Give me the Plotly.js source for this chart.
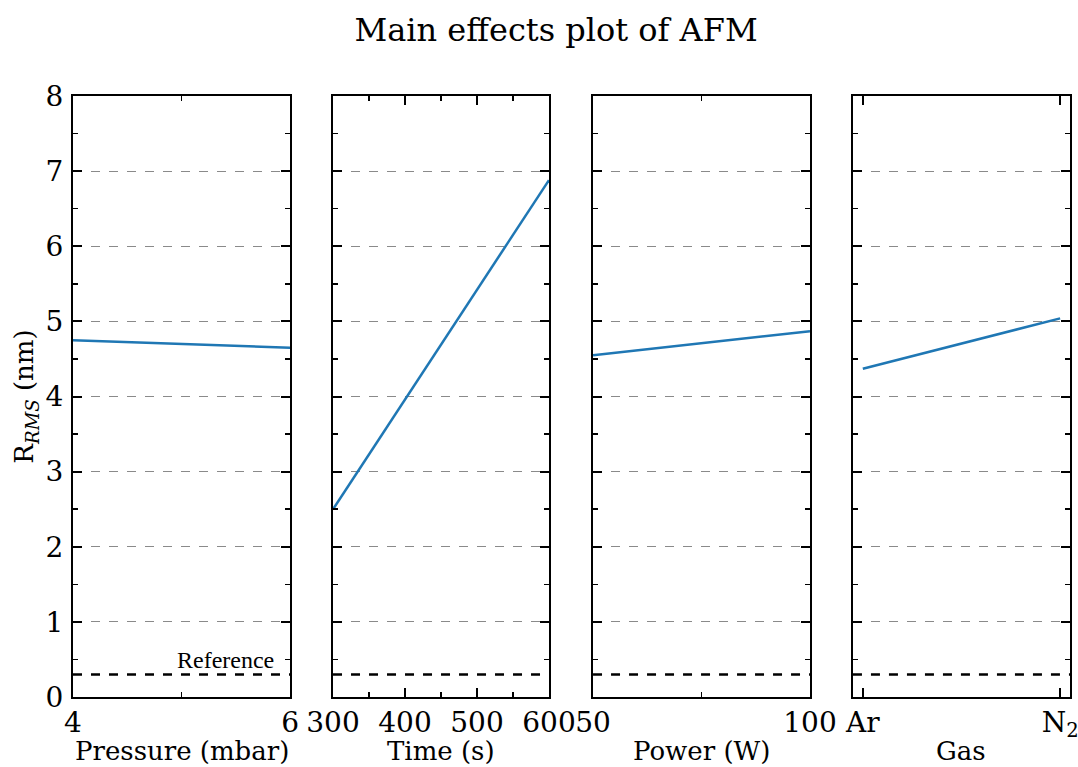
<!DOCTYPE html>
<html>
<head>
<meta charset="utf-8">
<script src="https://cdn.plot.ly/plotly-3.0.1.min.js"></script>
<style>html,body{margin:0;padding:0;background:#fff;}#chart{width:1078px;height:767px;}</style>
</head>
<body>
<div id="chart"></div>
<script>
// ---- data ----
const pressure = [4, 6];
const pressureR = [4.75, 4.65];
const time = [300, 600];
const timeR = [2.50, 6.88];
const power = [50, 100];
const powerR = [4.55, 4.87];
const gas = ['Ar', 'N<sub>2</sub>'];
const gasR = [4.37, 5.04];
const referenceValue = 0.3;
const xTitles = ['Pressure (mbar)', 'Time (s)', 'Power (W)', 'Gas'];
const yTitle = 'R<sub><i>RMS</i></sub> (nm)';
const yTicks = [0, 1, 2, 3, 4, 5, 6, 7, 8];

const serif = 'DejaVu Serif, serif';
const lineColor = '#1f77b4';

const xs = [pressure, time, power, gas];
const ys = [pressureR, timeR, powerR, gasR];
const traces = xs.map((x, i) => ({
  x: x, y: ys[i], type: 'scatter', mode: 'lines',
  line: {color: lineColor, width: 2.5},
  xaxis: i === 0 ? 'x' : 'x' + (i + 1),
  yaxis: i === 0 ? 'y' : 'y' + (i + 1),
  showlegend: false, hoverinfo: 'skip'
}));

const domains = [[0, 0.2177], [0.2608, 0.4774], [0.5216, 0.7392], [0.7823, 1]];
const xRanges = [[4, 6], [300, 600], [50, 100], [-0.05, 1.05]];
const xDticks = [2, 100, 50, null];
const xMinor = [1, 50, 25, null];

const layout = {
  width: 1078, height: 767,
  margin: {l: 73, r: 8, t: 96, b: 70},
  paper_bgcolor: '#fff', plot_bgcolor: '#fff',
  font: {family: serif, size: 26, color: '#000'},
  title: {text: 'Main effects plot of AFM', font: {family: serif, size: 32, color: '#000'},
          x: 0.4845, xref: 'paper', xanchor: 'center', y: 0.961, yanchor: 'middle'},
  shapes: [], annotations: []
};

for (let i = 0; i < 4; i++) {
  const xk = i === 0 ? 'xaxis' : 'xaxis' + (i + 1);
  const yk = i === 0 ? 'yaxis' : 'yaxis' + (i + 1);
  const xid = i === 0 ? 'x' : 'x' + (i + 1);
  const xa = {
    domain: domains[i], range: xRanges[i], anchor: i === 0 ? 'y' : 'y' + (i + 1),
    showline: true, linecolor: '#000', linewidth: 2, mirror: 'allticks',
    ticks: 'inside', ticklen: 9, tickwidth: 2, tickcolor: '#000',
    showgrid: false, zeroline: false,
    tickfont: {family: serif, size: 28, color: '#000'},
    ticklabelstandoff: -1,
    title: {text: ''}
  };
  if (i === 3) {
    xa.type = 'category';
  } else {
    xa.tick0 = xRanges[i][0]; xa.dtick = xDticks[i];
    xa.minor = {dtick: xMinor[i], tick0: xRanges[i][0], ticks: 'inside', ticklen: 5, tickwidth: 1.5, tickcolor: '#000', showgrid: false};
  }
  layout[xk] = xa;
  layout[yk] = {
    domain: [0, 1], range: [0, 8], anchor: xid,
    tickvals: yTicks,
    showline: true, linecolor: '#000', linewidth: 2, mirror: 'allticks',
    ticks: 'inside', ticklen: 9, tickwidth: 2, tickcolor: '#000',
    minor: {dtick: 0.5, tick0: 0, ticks: 'inside', ticklen: 5, tickwidth: 1.5, tickcolor: '#000', showgrid: false},
    showgrid: true, gridcolor: '#8a8a8a', gridwidth: 1, griddash: 'dash',
    zeroline: false,
    showticklabels: i === 0,
    tickfont: {family: serif, size: 28, color: '#000'},
    ticklabelstandoff: 2,
    title: i === 0 ? {text: yTitle, font: {family: serif, size: 26, color: '#000'}, standoff: 4} : {text: ''}
  };
  layout.shapes.push({
    type: 'line', xref: xid + ' domain', yref: i === 0 ? 'y' : 'y' + (i + 1),
    x0: 0, x1: 1, y0: referenceValue, y1: referenceValue,
    line: {color: '#000', width: 2.5, dash: 'dash'}
  });
  layout.annotations.push({
    text: xTitles[i], xref: xid + ' domain', yref: 'paper', x: 0.5, y: 0,
    xanchor: 'center', yanchor: 'middle', yshift: -54, showarrow: false, borderpad: 0,
    font: {family: serif, size: 26, color: '#000'}
  });
}

layout.annotations.push({
  text: 'Reference', xref: 'x', yref: 'y', x: 5.87, y: referenceValue,
  xanchor: 'right', yanchor: 'bottom', yshift: -1, showarrow: false,
  font: {family: 'Liberation Serif, Times New Roman, serif', size: 24, color: '#000'}
});

Plotly.newPlot('chart', traces, layout, {staticPlot: true, displayModeBar: false});
</script>
</body>
</html>
